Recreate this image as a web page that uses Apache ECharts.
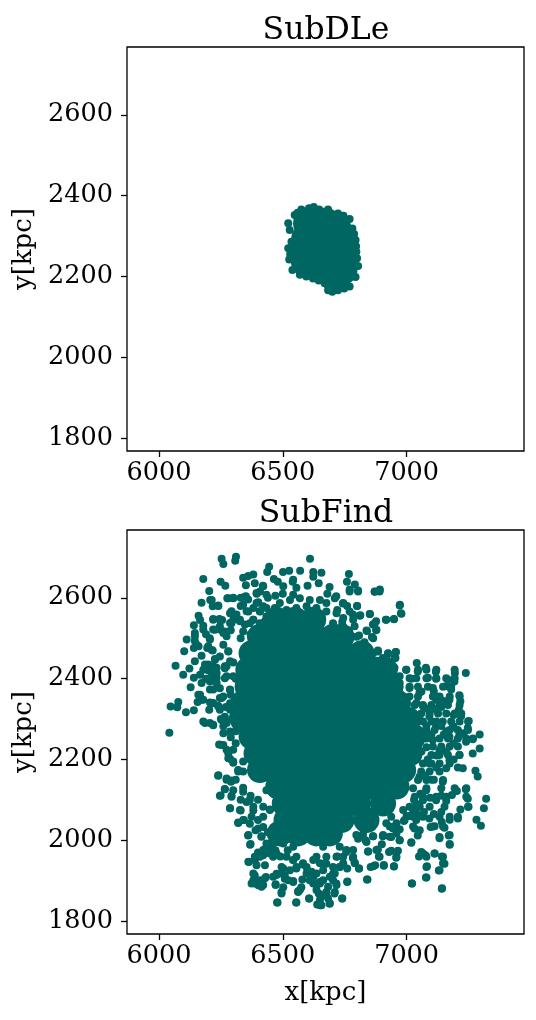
<!DOCTYPE html>
<html><head><meta charset="utf-8">
<script src="https://cdn.jsdelivr.net/npm/echarts@6/dist/echarts.min.js"></script>
<style>html,body{margin:0;background:#fff}#c{width:536px;height:1020px}</style></head>
<body><div id="c"></div>
<script>
const xTicks=[6000,6500,7000];
const yTicks=[1800,2000,2200,2400,2600];
const titles=['SubDLe','SubFind'];
const xName='x[kpc]', yName='y[kpc]';
// SubDLe: outline points of the clump
const dleEdge=[[6606,2369],[6647,2366],[6683,2366],[6723,2356],[6770,2342],[6781,2319],[6794,2290],[6797,2261],[6804,2226],[6794,2199],[6770,2175],[6723,2166],[6683,2166],[6669,2183],[6622,2195],[6569,2204],[6539,2216],[6526,2242],[6522,2270],[6535,2286],[6528,2315],[6522,2332],[6548,2352],[6575,2366],[6625,2372],[6665,2360],[6745,2350],[6788,2305],[6796,2275],[6800,2245],[6748,2170],[6700,2162],[6645,2190],[6595,2200],[6530,2255],[6560,2358],[6590,2360]];
// SubDLe: saturated interior
const dleCore=[[6602,2332],[6676,2332],[6719,2315],[6595,2294],[6676,2294],[6733,2282],[6589,2261],[6663,2257],[6743,2249],[6593,2237],[6663,2223],[6741,2216],[6710,2199]];
// SubFind: individually readable particles
const findNW=[[6253,2697],[6260,2684],[6311,2702],[6308,2692],[6179,2647],[6249,2640],[6268,2630],[6203,2617],[6276,2599],[6300,2600],[6207,2595],[6172,2588],[6217,2579],[6239,2581],[6351,2604],[6360,2596],[6340,2650],[6360,2654],[6381,2658],[6351,2631],[6387,2636],[6437,2664],[6445,2677],[6464,2647],[6501,2664],[6526,2667],[6570,2667],[6610,2697],[6623,2664],[6623,2652],[6645,2636],[6160,2556],[6166,2545],[6141,2532],[6179,2531],[6219,2548],[6244,2548],[6293,2567],[6313,2559],[6300,2546],[6354,2567],[6401,2589],[6407,2567],[6468,2575],[6145,2513],[6112,2497],[6145,2493],[6102,2468],[6141,2476],[6195,2476],[6217,2470],[6172,2457],[6145,2443],[6226,2449],[6186,2435],[6067,2432],[6123,2425],[6098,2410],[6219,2431],[6233,2414],[6266,2431],[6166,2410],[6141,2402],[6172,2389],[6128,2379],[6233,2389],[6206,2373],[6159,2360],[6179,2348],[6246,2352],[6156,2342],[6078,2342],[6047,2331],[6074,2329],[6109,2317],[6141,2322],[6203,2323],[6206,2341],[6239,2333],[6186,2290],[6219,2286],[6273,2294],[6246,2522],[6273,2505],[6260,2484],[6280,2468],[6347,2534],[6381,2546],[6434,2546],[6414,2530],[6420,2630],[6480,2640],[6540,2640],[6440,2600],[6500,2610],[6555,2625],[6600,2630],[6290,2520],[6330,2500],[6370,2510],[6300,2440],[6310,2400],[6290,2360],[6270,2330],[6190,2510],[6205,2500],[6160,2480],[6190,2400],[6200,2420],[6250,2300],[6295,2300],[6310,2270],[6330,2600],[6395,2610],[6470,2605],[6255,2545],[6330,2580],[6145,2505],[6152,2484],[6179,2522],[6206,2497],[6199,2480],[6219,2522],[6246,2530],[6260,2513],[6287,2538],[6307,2555],[6327,2546],[6381,2575],[6421,2579],[6475,2555],[6434,2522],[6488,2538],[6394,2612],[6421,2629],[6502,2629],[6542,2645],[6542,2608],[6179,2422],[6199,2435],[6213,2414],[6233,2427],[6206,2393],[6233,2402],[6273,2406],[6300,2406],[6273,2431],[6287,2443],[6166,2360],[6172,2348],[6219,2340],[6260,2356],[6287,2373],[6246,2323],[6287,2323],[6253,2298],[6206,2290],[6179,2294],[6260,2282],[6300,2307],[6246,2455],[6219,2373]];
const findNE=[[6656,2662],[6767,2659],[6759,2640],[6791,2633],[6804,2618],[6770,2621],[6689,2627],[6871,2615],[6892,2621],[6973,2583],[6977,2562],[6949,2548],[6916,2546],[6852,2560],[6877,2542],[6864,2534],[6800,2580],[6813,2557],[6783,2559],[6840,2518],[6877,2520],[6808,2507],[6860,2503],[6767,2519],[6743,2586],[6716,2604],[6925,2462],[6957,2466],[6955,2451],[6904,2451],[6884,2470],[7041,2439],[7078,2427],[6998,2422],[7045,2418],[7118,2417],[7195,2414],[7239,2414],[7119,2400],[7086,2402],[7019,2400],[7166,2398],[7193,2393],[6972,2406],[6951,2427],[6911,2427],[7213,2359],[7217,2344],[7160,2381],[7180,2373],[7106,2377],[7052,2365],[7012,2377],[6972,2365],[7119,2348],[7173,2348],[7066,2332],[7211,2323],[7220,2307],[7251,2295],[7247,2278],[7187,2282],[7146,2294],[7092,2307],[7012,2315],[6945,2332],[7032,2286],[7119,2282],[6958,2282],[6680,2610],[6720,2570],[6760,2580],[6740,2540],[6790,2530],[6830,2490],[6810,2470],[6870,2440],[6920,2400],[6890,2380],[7040,2340],[7140,2330],[7190,2310],[7090,2260],[7160,2270],[7000,2260],[7050,2240]];
const findSW=[[6042,2266],[6239,2160],[6273,2150],[6291,2145],[6266,2126],[6249,2111],[6293,2110],[6287,2079],[6320,2043],[6343,2050],[6330,2074],[6367,2041],[6360,2012],[6414,2010],[6368,1989],[6363,1946],[6387,1951],[6421,1963],[6394,1938],[6428,1938],[6387,1913],[6374,1893],[6401,1889],[6421,1889],[6432,1909],[6477,1846],[6554,1846],[6606,1856],[6639,1841],[6495,1868],[6502,1884],[6471,1891],[6475,1917],[6508,1913],[6542,1899],[6562,1874],[6575,1884],[6579,1903],[6623,1909],[6636,1889],[6645,1868],[6616,1922],[6555,1930],[6502,1930],[6461,1959],[6542,1951],[6448,1984],[6470,1975],[6354,2095],[6381,2074],[6330,2100],[6434,2124],[6448,2076],[6421,2033],[6260,2236],[6243,2237],[6280,2215],[6287,2202],[6300,2192],[6320,2174],[6310,2150],[6340,2130],[6370,2110],[6400,2100],[6400,2050],[6440,2020],[6390,2025],[6460,2000],[6490,1960],[6520,1975],[6580,1940],[6600,1925],[6400,1970],[6340,2170],[6310,2240],[6290,2255],[6434,1992],[6421,1976],[6448,1967],[6387,1959],[6515,1959],[6555,1959],[6623,1951],[6650,1943],[6596,1934],[6495,1918],[6522,1901],[6461,1910],[6381,1901],[6428,1906],[6401,1889],[6663,1901],[6703,1901],[6683,1885],[6636,1877],[6562,1872],[6710,1872],[6663,1864],[6650,1852],[6683,1856],[6730,1934],[6744,1943],[6757,1976],[6784,1976]];
const findSE=[[7295,2262],[7295,2227],[7267,2215],[7267,2250],[7240,2244],[7213,2211],[7207,2180],[7227,2178],[7278,2172],[7287,2158],[7239,2126],[7203,2122],[7183,2112],[7247,2103],[7250,2083],[7217,2076],[7321,2103],[7312,2079],[7282,2051],[7300,2036],[7207,2054],[7174,2051],[7160,2097],[7140,2070],[7142,2045],[7113,2035],[7153,2031],[7133,2008],[7170,2012],[7174,1989],[7097,2033],[7019,1994],[7045,2012],[6989,2048],[7059,1971],[7050,1960],[7076,1963],[7082,1936],[7113,1967],[7142,1960],[7153,1942],[7130,1925],[7078,1908],[7021,1893],[7142,1880],[6949,1935],[6908,1937],[6873,1938],[6855,1934],[6840,1903],[6808,1930],[6783,1956],[6790,1945],[6845,1972],[6884,1977],[6888,1960],[6929,1971],[6965,1974],[6958,1957],[6972,2000],[6972,2027],[6938,2008],[6904,2010],[6864,2010],[6834,2000],[6804,2004],[6824,2015],[6761,1898],[6740,1856],[6689,1843],[6709,1868],[6676,1868],[6656,1839],[6649,1897],[6716,1893],[6730,1934],[6703,1917],[6756,1971],[6676,1942],[7119,2099],[7146,2145],[7173,2198],[7160,2178],[7092,2190],[7133,2223],[7106,2248],[7173,2256],[7213,2260],[7052,2157],[7079,2124],[7066,2099],[7039,2066],[7092,2054],[7032,2029],[6945,2033],[7100,2150],[7140,2110],[7010,2060],[7030,2100],[7120,2210],[7080,2230],[7040,2200],[7060,2060],[6900,1990],[6760,1930],[6720,1960],[6959,2017],[6932,2009],[6918,2042],[6959,2042],[6938,2058],[6986,2075],[7026,2075],[7039,2050],[7053,2025]];
// SubFind: second reading, fringe of the solid centre
const findFringe=[[6213,2595],[6240,2580],[6280,2599],[6300,2599],[6340,2583],[6287,2562],[6307,2554],[6293,2537],[6327,2542],[6219,2546],[6246,2546],[6226,2521],[6266,2517],[6213,2471],[6280,2467],[6226,2447],[6266,2426],[6226,2422],[6213,2401],[6266,2401],[6246,2376],[6287,2372],[6253,2352],[6240,2331],[6213,2339],[6287,2339],[6266,2306],[6219,2285],[6273,2290],[6260,2265],[6287,2269],[6253,2236],[6273,2224],[6300,2224],[6280,2203],[6300,2195],[6340,2195],[6320,2170],[6240,2161],[6273,2153],[6293,2148],[6266,2127],[6246,2110],[6300,2124],[6293,2108],[6340,2120],[6367,2100],[6287,2079],[6327,2075],[6381,2083],[6421,2083],[6448,2075],[6320,2044],[6340,2050],[6374,2058],[6421,2058],[6361,2013],[6401,2029],[6370,1991],[6414,2009],[6361,1947],[6408,1959],[6434,1984],[6475,1967],[6381,1918],[6408,1901],[6387,1893],[6414,1885],[6475,1914],[6508,1905],[6495,1872],[6471,1889],[6542,1897],[6479,1846],[6555,1846],[6607,1856],[6569,1877],[6650,1839],[6690,1844],[6740,1856],[6760,1897],[6676,1872],[6717,1889],[6623,1893],[6596,1918],[6542,1951],[6582,1943],[6663,1926],[6703,1934],[6744,1959],[6784,1959],[6791,1943],[6808,1930],[6842,1903],[6844,1972],[6878,1976],[6891,1959],[6865,1936],[6908,1939],[6949,1936],[6959,1959],[6938,1974],[7019,1995],[7066,1967],[7080,1959],[7113,1967],[7147,1959],[7147,1943],[7133,1926],[7080,1934],[7080,1908],[7022,1893],[7143,1881],[7174,1991],[7133,2005],[7174,2013],[6972,2000],[6865,2010],[6905,2013],[6838,1996],[6797,2013],[6945,2029],[6992,2050],[6871,2616],[6891,2616],[6972,2581],[6979,2561],[6918,2546],[6949,2547],[6851,2560],[6871,2537],[6878,2521],[6838,2519],[6800,2580],[6770,2566],[6811,2556],[6784,2546],[6744,2550],[6764,2517],[6797,2504],[6865,2500],[6885,2467],[6925,2463],[6956,2466],[6952,2451],[6918,2451],[6938,2430],[6744,2587],[6710,2599],[6804,2616],[6770,2616],[6408,2616],[6434,2608],[6347,2603],[6394,2587],[6408,2566],[6361,2566],[6434,2575],[6428,2542],[6381,2546],[6488,2587],[6529,2595],[6569,2599],[6609,2595],[6650,2595],[6676,2587],[6475,2570],[6515,2570],[6555,2575],[6596,2579],[6636,2575],[6676,2566],[6717,2562],[6434,2554],[6408,2537],[6381,2517],[6340,2517],[6367,2537],[6703,2537],[6744,2529],[6770,2500],[6824,2480],[6865,2463],[6898,2442],[6945,2413],[6972,2389],[6461,1992],[6502,1992],[6542,1984],[6663,1984],[6730,1984],[6636,1959],[6676,1959],[6717,1959],[6670,1943],[6495,1934],[6529,1926],[6555,1934],[6636,1918],[6690,1910],[6710,1918],[6609,1901],[6650,1893]];
// SubFind: dense eastern lobe
const findLobe=[[6999,2422],[7046,2422],[7080,2422],[7120,2422],[7194,2422],[7012,2401],[7039,2401],[7080,2401],[7120,2401],[7160,2401],[7194,2401],[6972,2380],[7012,2380],[7046,2380],[7086,2380],[7147,2380],[7180,2380],[7012,2356],[7046,2356],[7106,2356],[7133,2356],[7174,2356],[7214,2356],[6999,2335],[7033,2335],[7066,2335],[7100,2335],[7133,2335],[7167,2335],[7214,2335],[7026,2314],[7059,2314],[7093,2314],[7127,2314],[7160,2314],[7194,2314],[7221,2314],[7026,2294],[7066,2294],[7100,2294],[7120,2294],[7180,2294],[7214,2294],[7248,2294],[7039,2273],[7080,2273],[7113,2273],[7174,2273],[7207,2273],[7248,2273],[7046,2252],[7080,2252],[7133,2252],[7167,2252],[7207,2252],[7241,2252],[7268,2252],[7046,2232],[7106,2232],[7140,2232],[7174,2232],[7207,2232],[7046,2211],[7100,2211],[7133,2211],[7167,2211],[7214,2211],[7066,2190],[7100,2190],[7133,2190],[7174,2190],[7059,2170],[7093,2170],[7133,2170],[7046,2149],[7080,2149],[7147,2149],[7026,2129],[7080,2129],[7140,2129],[7194,2129],[7241,2129],[7033,2108],[7066,2108],[7120,2108],[7160,2108],[7241,2108],[7012,2083],[7053,2083],[7093,2083],[7153,2083],[7248,2083],[7026,2058],[7066,2058],[7133,2058],[7174,2058],[7207,2058],[6932,2034],[7026,2034],[7106,2034],[7147,2034],[7060,2368],[7110,2368],[7150,2345],[7085,2325],[7115,2325],[7050,2305],[7080,2283],[7140,2283],[7060,2262],[7100,2262],[7150,2262],[7190,2240],[7060,2220],[7085,2200],[7120,2180],[7075,2160],[7110,2150],[7055,2115],[7095,2105],[7040,2090],[7070,2070],[7110,2065],[7190,2280],[7230,2265],[7160,2220],[7190,2200],[7000,2060]];
// SubFind: saturated centre where particles merge into a solid area
const findCore=[[6475,2546],[6549,2546],[6623,2546],[6408,2504],[6482,2504],[6555,2504],[6629,2504],[6703,2504],[6737,2504],[6374,2463],[6448,2463],[6522,2463],[6596,2463],[6670,2463],[6744,2463],[6818,2463],[6361,2422],[6434,2422],[6508,2422],[6582,2422],[6656,2422],[6730,2422],[6804,2422],[6878,2422],[6912,2422],[6358,2380],[6432,2380],[6506,2380],[6580,2380],[6654,2380],[6727,2380],[6801,2380],[6875,2380],[6932,2380],[6340,2339],[6414,2339],[6488,2339],[6562,2339],[6636,2339],[6710,2339],[6784,2339],[6858,2339],[6932,2339],[6965,2339],[6340,2298],[6414,2298],[6488,2298],[6562,2298],[6636,2298],[6710,2298],[6784,2298],[6858,2298],[6932,2298],[7006,2298],[6374,2257],[6448,2257],[6522,2257],[6596,2257],[6670,2257],[6744,2257],[6818,2257],[6892,2257],[6966,2257],[7026,2257],[6394,2215],[6461,2215],[6529,2215],[6596,2215],[6663,2215],[6730,2215],[6798,2215],[6865,2215],[6932,2215],[7012,2215],[6408,2174],[6482,2174],[6555,2174],[6629,2174],[6703,2174],[6777,2174],[6851,2174],[6925,2174],[6986,2174],[6482,2133],[6555,2133],[6629,2133],[6703,2133],[6777,2133],[6851,2133],[6905,2133],[6959,2133],[6508,2091],[6582,2091],[6656,2091],[6730,2091],[6804,2091],[6905,2091],[6515,2050],[6589,2050],[6663,2050],[6737,2050],[6838,2050],[6488,2017],[6562,2017],[6636,2017],[6690,2017]];

const color='#006661', ink='#000', serif='"DejaVu Serif"', fs=25.5;
const xRange=[5871,7474], yRange=[1768,2768];
const tops=[47,530];
const scatter=(i,d,size)=>({type:'scatter',xAxisIndex:i,yAxisIndex:i,data:d,symbolSize:size,itemStyle:{color,opacity:1},silent:true,animation:false});
const line={show:false};
const tick=(vals)=>({show:true,length:6,customValues:vals,lineStyle:{color:ink,width:1.3}});
const lab=(vals,m)=>({show:true,customValues:vals,formatter:v=>String(v),fontFamily:serif,fontSize:fs,color:ink,margin:m});
const chart=echarts.init(document.getElementById('c'),null,{renderer:'canvas'});
chart.setOption({
  animation:false,backgroundColor:'#fff',
  title:titles.map((t,i)=>({text:t,left:321,textAlign:'center',top:tops[i]-37,textStyle:{fontFamily:serif,fontWeight:'normal',fontSize:31.5,color:ink}})),
  grid:tops.map(t=>({left:127,top:t,width:397,height:404,show:true,borderColor:ink,borderWidth:1.3,backgroundColor:'#fff'})),
  xAxis:tops.map((t,i)=>({type:'value',gridIndex:i,min:xRange[0],max:xRange[1],splitLine:{show:false},axisLine:line,axisTick:tick(xTicks),axisLabel:lab(xTicks,9),
    name:i?xName:'',nameLocation:'middle',nameGap:46,nameTextStyle:{fontFamily:serif,fontSize:26,color:ink}})),
  yAxis:tops.map((t,i)=>({type:'value',gridIndex:i,min:yRange[0],max:yRange[1],splitLine:{show:false},axisLine:line,axisTick:tick(yTicks),axisLabel:lab(yTicks,14),
    name:yName,nameLocation:'middle',nameGap:89,nameTextStyle:{fontFamily:serif,fontSize:26,color:ink}})),
  series:[scatter(0,dleCore,30),scatter(0,dleEdge,8),scatter(1,findCore,26),scatter(1,findNW,8),scatter(1,findNE,8),scatter(1,findSW,8),scatter(1,findSE,8),scatter(1,findFringe,8),scatter(1,findLobe,8)]
});
</script></body></html>
